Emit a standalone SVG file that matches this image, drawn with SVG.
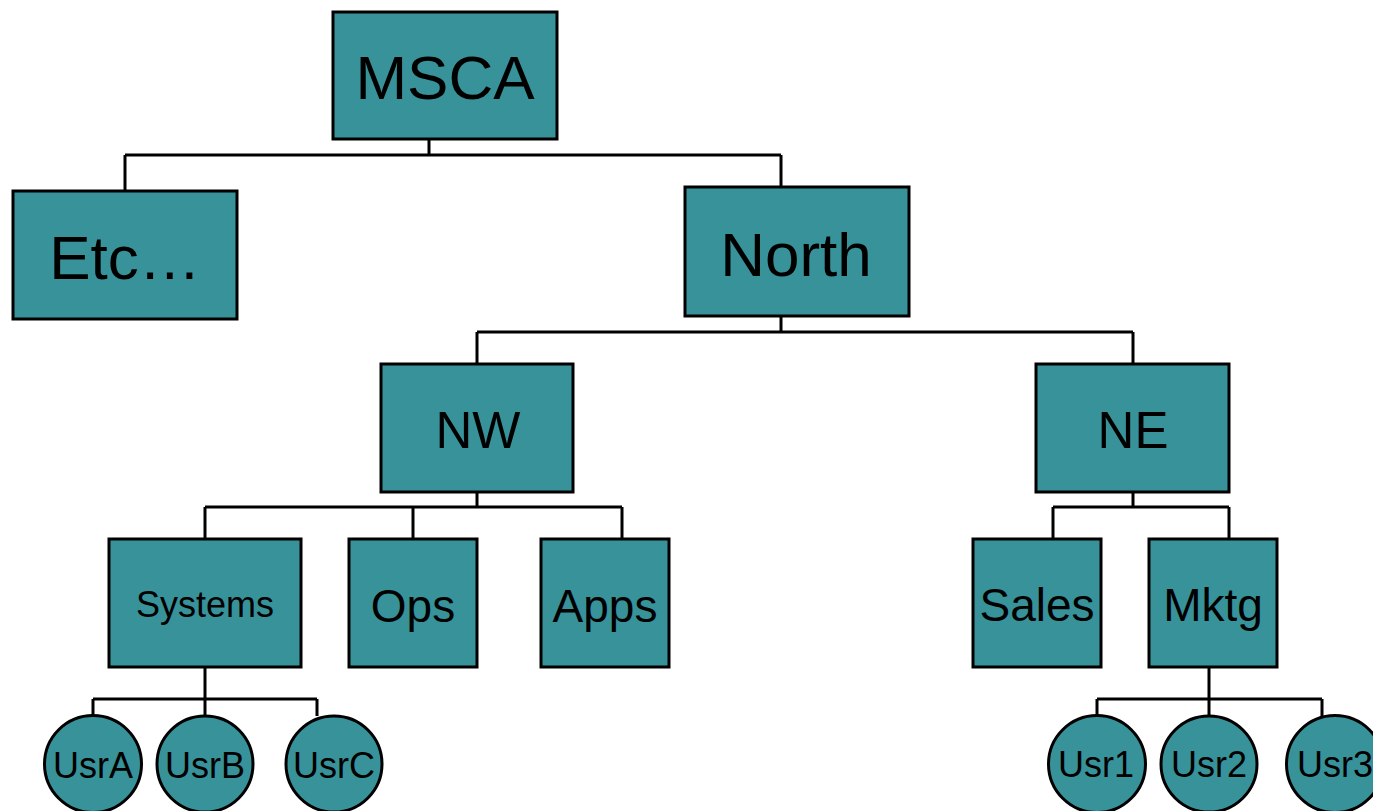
<svg xmlns="http://www.w3.org/2000/svg" width="1373" height="811" viewBox="0 0 1373 811">
<style>
.box{fill:#37929A;stroke:#000;stroke-width:3}
.t{font-family:"Liberation Sans",Arial,sans-serif;fill:#000;text-anchor:middle}
.conn{fill:none;stroke:#000;stroke-width:3}
</style>
<rect width="1373" height="811" fill="#fff"/>
<g id="connectors">
<path class="conn" d="M429,139V155M125,155H781M125,155V191M781,155V187"/>
<path class="conn" d="M781,316V332M477,332H1133M477,332V363M1133,332V363"/>
<path class="conn" d="M477,492V507M205,507H622M205,507V539M413,507V539M622,507V539"/>
<path class="conn" d="M1133,492V507M1053,507H1229M1053,507V539M1229,507V539"/>
<path class="conn" d="M205,667V715M93,699H317M93,699V715M317,699V716"/>
<path class="conn" d="M1209,667V715M1097,699H1322M1097,699V715M1322,699V716"/>
</g>
<g id="MSCA"><rect class="box" x="333" y="12" width="224" height="127"/><text class="t" x="445" y="99" font-size="62">MSCA</text></g>
<g id="Etc"><rect class="box" x="13" y="191" width="224" height="128"/><text class="t" x="125" y="279" font-size="62">Etc…</text></g>
<g id="North"><rect class="box" x="685" y="187" width="224" height="129"/><text class="t" x="796" y="276" font-size="62">North</text></g>
<g id="NW"><rect class="box" x="381" y="364" width="192" height="128"/><text class="t" x="478" y="448" font-size="51">NW</text></g>
<g id="NE"><rect class="box" x="1036" y="364" width="193" height="128"/><text class="t" x="1133" y="448" font-size="51">NE</text></g>
<g id="Systems"><rect class="box" x="109" y="539" width="192" height="128"/><text class="t" x="205" y="617" font-size="36">Systems</text></g>
<g id="Ops"><rect class="box" x="349" y="539" width="128" height="128"/><text class="t" x="413" y="622" font-size="46">Ops</text></g>
<g id="Apps"><rect class="box" x="541" y="539" width="128" height="128"/><text class="t" x="605" y="622" font-size="46">Apps</text></g>
<g id="Sales"><rect class="box" x="973" y="539" width="128" height="128"/><text class="t" x="1037" y="621" font-size="46">Sales</text></g>
<g id="Mktg"><rect class="box" x="1149" y="539" width="128" height="128"/><text class="t" x="1213" y="621" font-size="46">Mktg</text></g>
<g id="UsrA"><circle class="box" cx="93" cy="764" r="48.5"/><text class="t" x="93" y="778" font-size="36">UsrA</text></g>
<g id="UsrB"><circle class="box" cx="205" cy="764" r="48"/><text class="t" x="205" y="778" font-size="36">UsrB</text></g>
<g id="UsrC"><circle class="box" cx="334" cy="764" r="48"/><text class="t" x="334" y="778" font-size="36">UsrC</text></g>
<g id="Usr1"><circle class="box" cx="1097" cy="764" r="48.5"/><text class="t" x="1096" y="777" font-size="36">Usr1</text></g>
<g id="Usr2"><circle class="box" cx="1209" cy="764" r="48"/><text class="t" x="1209" y="777" font-size="36">Usr2</text></g>
<g id="Usr3"><circle class="box" cx="1335" cy="764" r="48.5"/><text class="t" x="1335" y="777" font-size="36">Usr3</text></g>
</svg>
